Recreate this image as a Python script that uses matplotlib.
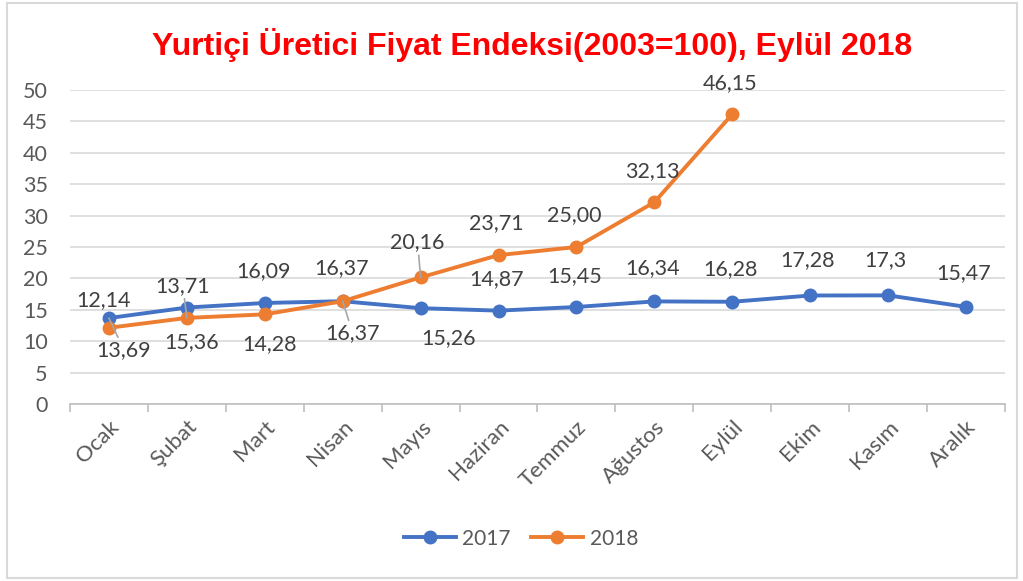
import matplotlib.pyplot as plt
from matplotlib.patches import Rectangle

months = ["Ocak", "Şubat", "Mart", "Nisan", "Mayıs", "Haziran", "Temmuz",
          "Ağustos", "Eylül", "Ekim", "Kasım", "Aralık"]
y2017 = [13.69, 15.36, 16.09, 16.37, 15.26, 14.87, 15.45, 16.34, 16.28, 17.28, 17.3, 15.47]
y2018 = [12.14, 13.71, 14.28, 16.37, 20.16, 23.71, 25.00, 32.13, 46.15]
lab2017 = ["13,69", "15,36", "16,09", "16,37", "15,26", "14,87", "15,45",
           "16,34", "16,28", "17,28", "17,3", "15,47"]
lab2018 = ["12,14", "13,71", "14,28", "16,37", "20,16", "23,71", "25,00", "32,13", "46,15"]

# label offsets in pixels (dx, dy), leader line flag
off2017 = [(15, -32, True), (5, -35, False), (-1, 32, False), (-1, 33, False), (28, -30, False),
           (-2, 32, False), (-2, 31, False), (-2, 33, False), (-2, 33, False), (-3, 35, False),
           (-3, 35, False), (-2, 34, False)]
off2018 = [(-5, 28, False), (-4, 32, True), (5, -30, False), (10, -32, True), (-3, 35, True),
           (-2, 32, False), (-2, 32, False), (-2, 31, False), (-2, 31, False)]

blue = "#4472C4"
orange = "#ED7D31"
font = ["Lato", "DejaVu Sans"]
plt.rcParams['font.family'] = font

fig = plt.figure(figsize=(10.23, 5.81), dpi=100)
ax = fig.add_axes([0.0684, 0.3046, 0.914, 0.5405])

x = list(range(len(months)))
ax.plot(x, y2017, color=blue, linewidth=2.8, marker='o', markersize=9, label='2017', zorder=3)
ax.plot(x[:len(y2018)], y2018, color=orange, linewidth=2.8, marker='o', markersize=9,
        label='2018', zorder=4)

def put_labels(vals, labels, offs):
    for i, (v, t, (dx, dy, lead)) in enumerate(zip(vals, labels, offs)):
        kw = {}
        if lead:
            kw['arrowprops'] = dict(arrowstyle='-', color='#a6a6a6', lw=1.2,
                                    shrinkA=0, shrinkB=0)
        ax.annotate(t, (i, v), xytext=(dx, dy), textcoords='offset pixels',
                    ha='center', va='center', fontsize=15.5, color='#404040', zorder=5, **kw)

put_labels(y2017, lab2017, off2017)
put_labels(y2018, lab2018, off2018)

ax.set_xlim(-0.5, 11.5)
ax.set_ylim(0, 50)
ax.set_yticks(range(0, 51, 5))
ax.yaxis.grid(True, color='#d9d9d9', linewidth=1.2)
ax.set_axisbelow(True)
for s in ['top', 'right', 'left']:
    ax.spines[s].set_visible(False)
ax.spines['bottom'].set_color('#bfbfbf')
ax.spines['bottom'].set_linewidth(1.2)
ax.tick_params(axis='y', length=0, pad=16, labelsize=15.5, labelcolor='#595959')

ax.set_xticks([i - 0.5 for i in range(13)], minor=False)
ax.set_xticklabels([])
ax.tick_params(axis='x', which='major', length=6, color='#bfbfbf', width=1.2, direction='out')
ax.set_xticks(x, minor=True)
ax.set_xticklabels(months, minor=True, rotation=45, ha='right', rotation_mode='anchor')
ax.tick_params(axis='x', which='minor', length=0, pad=9, labelsize=16, labelcolor='#595959')

fig.text(0.52, 0.923, "Yurtiçi Üretici Fiyat Endeksi(2003=100), Eylül 2018",
         ha='center', va='center', fontsize=23, fontweight='bold', color='#FF0000',
         family='Liberation Sans')

leg = fig.legend(loc='center', bbox_to_anchor=(0.509, 0.073), ncol=2, frameon=False,
                 fontsize=15, handlelength=2.5, columnspacing=1.0, handletextpad=0.3)
for t in leg.get_texts():
    t.set_color('#595959')

fig.patches.append(Rectangle((0.007, 0.005), 0.987, 0.99, transform=fig.transFigure,
                             fill=False, edgecolor='#d9d9d9', linewidth=1.5))

fig.savefig("out.png", dpi=100)
